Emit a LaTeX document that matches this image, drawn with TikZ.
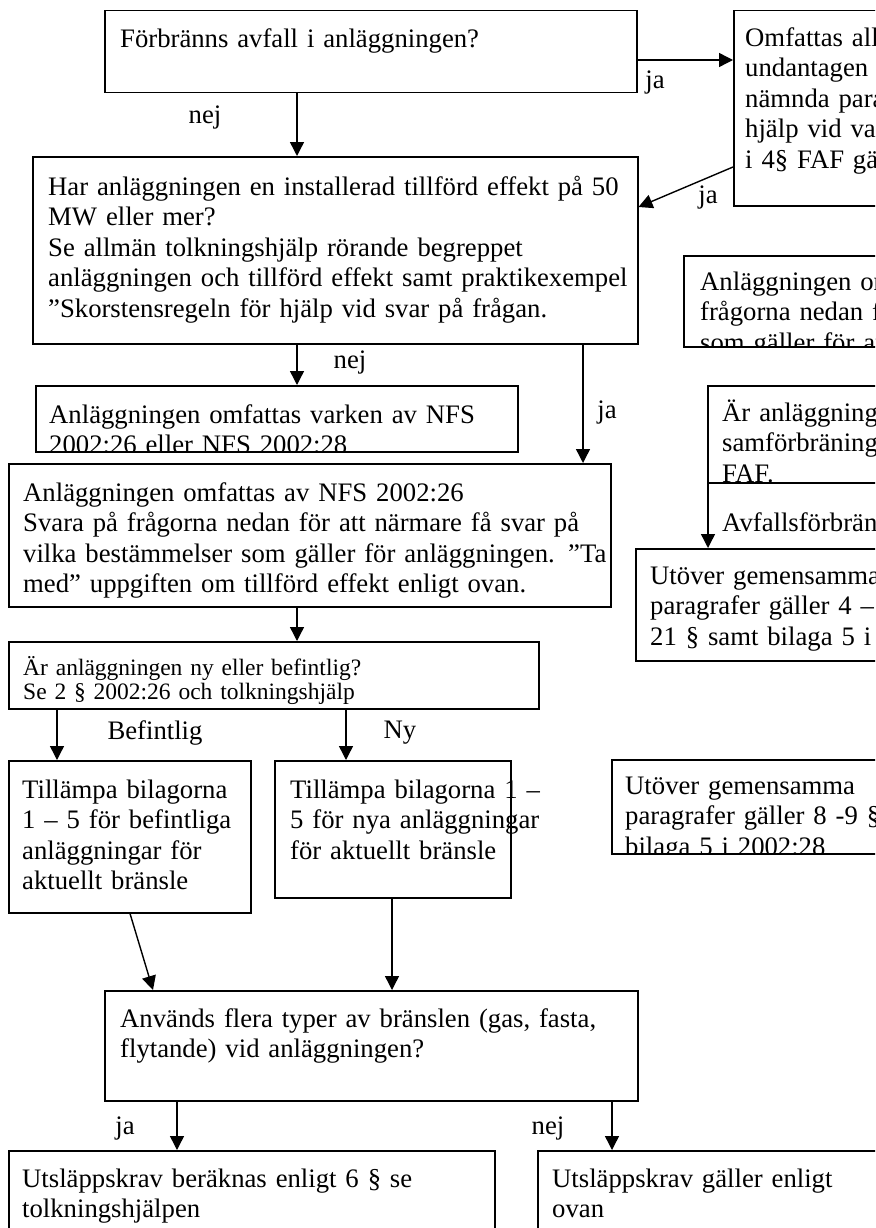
\documentclass[tikz,border=0pt]{standalone}
\usepackage{fontspec}
\setmainfont{Liberation Serif}
\usetikzlibrary{arrows.meta}

\tikzset{
  box/.style = {draw, line width=1.5pt, rectangle, inner sep=0pt, anchor=north west},
  txt/.style = {anchor=north west, inner sep=0pt, text width=640pt, align=left,
                font=\fontsize{26.7pt}{30.5pt}\selectfont},
  small/.style = {font=\fontsize{23.5pt}{24pt}\selectfont},
  lbl/.style = {inner sep=0pt, font=\fontsize{26.7pt}{30.5pt}\selectfont},
  arr/.style = {line width=1.4pt, -{Triangle[length=14pt,width=14pt]}}
}

\begin{document}
\begin{tikzpicture}[x=1pt, y=-1pt]
	\useasboundingbox (0,0) rectangle (875,1228);
	\clip (0,0) rectangle (875,1228);

	% boxes
	\node[box, minimum width=532pt, minimum height=82pt] (A) at (104,10) {};
	\node[box, minimum width=200pt, minimum height=195pt] (B) at (733,10) {};
	\node[box, minimum width=605pt, minimum height=187pt] (C) at (32,156) {};
	\node[box, minimum width=482pt, minimum height=66pt] (D) at (35,385) {};
	\node[box, minimum width=602pt, minimum height=143pt] (E) at (8,463) {};
	\node[box, minimum width=530pt, minimum height=67pt] (F) at (8,641) {};
	\node[box, minimum width=242pt, minimum height=152pt] (G) at (8,760) {};
	\node[box, minimum width=236pt, minimum height=137pt] (H) at (274,760) {};
	\node[box, minimum width=533pt, minimum height=110pt] (I) at (104,990) {};
	\node[box, minimum width=486pt, minimum height=100pt] (J) at (8,1150) {};
	\node[box, minimum width=360pt, minimum height=100pt] (K) at (537,1150) {};
	\node[box, minimum width=220pt, minimum height=91pt] (R1) at (683,255) {};
	\node[box, minimum width=200pt, minimum height=97pt] (R2) at (707,385) {};
	\node[box, minimum width=260pt, minimum height=112pt] (R3) at (635,548) {};
	\node[box, minimum width=280pt, minimum height=94pt] (R4) at (611,759) {};

	% texts
	\node[txt] (tA) at ([shift={(16,15.6)}]A.north west) {\strut Förbränns avfall i anläggningen?};
	\node[txt] (tB) at ([shift={(12,14.6)}]B.north west) {\strut Omfattas all\\undantagen\\nämnda para\\hjälp vid var\\i 4§ FAF gä};
	\node[txt] (tC) at ([shift={(16,17.6)}]C.north west) {\strut Har anläggningen en installerad tillförd effekt på 50\\MW eller mer?\\Se allmän tolkningshjälp rörande begreppet\\anläggningen och tillförd effekt samt praktikexempel\\”Skorstensregeln för hjälp vid svar på frågan.};
	\begin{scope}
		\clip (D.north west) rectangle (D.south east);
		\node[txt] (tD) at ([shift={(14,16.6)}]D.north west) {\strut Anläggningen omfattas varken av NFS\\2002:26 eller NFS 2002:28};
	\end{scope}
	\node[txt] (tE) at ([shift={(15,16.6)}]E.north west) {\strut Anläggningen omfattas av NFS 2002:26\\Svara på frågorna nedan för att närmare få svar på\\vilka bestämmelser som gäller för anläggningen. ”Ta\\med” uppgiften om tillförd effekt enligt ovan.};
	\node[txt, small] (tF) at ([shift={(15,15)}]F.north west) {\strut Är anläggningen ny eller befintlig?\\Se 2 § 2002:26 och tolkningshjälp};
	\node[txt] (tG) at ([shift={(14,16.6)}]G.north west) {\strut Tillämpa bilagorna\\1 – 5 för befintliga\\anläggningar för\\aktuellt bränsle};
	\node[txt] (tH) at ([shift={(16,16.6)}]H.north west) {\strut Tillämpa bilagorna 1 –\\5 för nya anläggningar\\för aktuellt bränsle};
	\node[txt] (tI) at ([shift={(16,15.6)}]I.north west) {\strut Används flera typer av bränslen (gas, fasta,\\flytande) vid anläggningen?};
	\node[txt] (tJ) at ([shift={(14,15.6)}]J.north west) {\strut Utsläppskrav beräknas enligt 6 § se\\tolkningshjälpen};
	\node[txt] (tK) at ([shift={(15,15.6)}]K.north west) {\strut Utsläppskrav gäller enligt\\ovan};
	\begin{scope}
		\clip (R1.north west) rectangle (R1.south east);
		\node[txt] (tR1) at ([shift={(17,13.6)}]R1.north west) {\strut Anläggningen om\\frågorna nedan f\\som gäller för an};
	\end{scope}
	\begin{scope}
		\clip (R2.north west) rectangle (R2.south east);
		\node[txt] (tR2) at ([shift={(15,14.6)}]R2.north west) {\strut Är anläggning\\samförbräning\\FAF.};
	\end{scope}
	\node[txt] (tR3) at ([shift={(15,14.6)}]R3.north west) {\strut Utöver gemensamma\\paragrafer gäller 4 –\\21 § samt bilaga 5 i 2};
	\begin{scope}
		\clip (R4.north west) rectangle (R4.south east);
		\node[txt] (tR4) at ([shift={(14,13.6)}]R4.north west) {\strut Utöver gemensamma\\paragrafer gäller 8 -9 §\\bilaga 5 i 2002:28};
	\end{scope}

	% labels
	\node[lbl] (ja1) at (655,83) {ja};
	\node[lbl] (ja2) at (708,198) {ja};
	\node[lbl] (nej1) at (205,118) {nej};
	\node[lbl] (nej2) at (350,362) {nej};
	\node[lbl] (ja3) at (607,412) {ja};
	\node[lbl] (bef) at (155,733) {Befintlig};
	\node[lbl] (ny) at (400,733) {Ny};
	\node[lbl] (ja4) at (125,1128) {ja};
	\node[lbl] (nej3) at (548,1128) {nej};
	\node[lbl, anchor=west] (avf) at (722,522) {Avfallsförbrän};

	% connectors
	\draw[arr] (A.east |- 0,60) -- (B.west |- 0,60);
	\draw[arr] (B.west |- 0,167) -- (C.east |- 0,207);
	\draw[arr] (A.south -| 297,0) -- (C.north -| 297,0);
	\draw[arr] (C.south -| 297,0) -- (D.north -| 297,0);
	\draw[arr] (C.south -| 583,0) -- (E.north -| 583,0);
	\draw[arr] (E.south -| 297,0) -- (F.north -| 297,0);
	\draw[arr] (F.south -| 57,0) -- (G.north -| 57,0);
	\draw[arr] (F.south -| 346,0) -- (H.north -| 346,0);
	\draw[arr] (G.south -| 130,0) -- (I.north -| 153,0);
	\draw[arr] (H.south -| 392,0) -- (I.north -| 392,0);
	\draw[arr] (I.south -| 177,0) -- (J.north -| 177,0);
	\draw[arr] (I.south -| 612,0) -- (K.north -| 612,0);
	\draw[arr] (R2.south -| 708,0) -- (R3.north -| 708,0);
\end{tikzpicture}
\end{document}
